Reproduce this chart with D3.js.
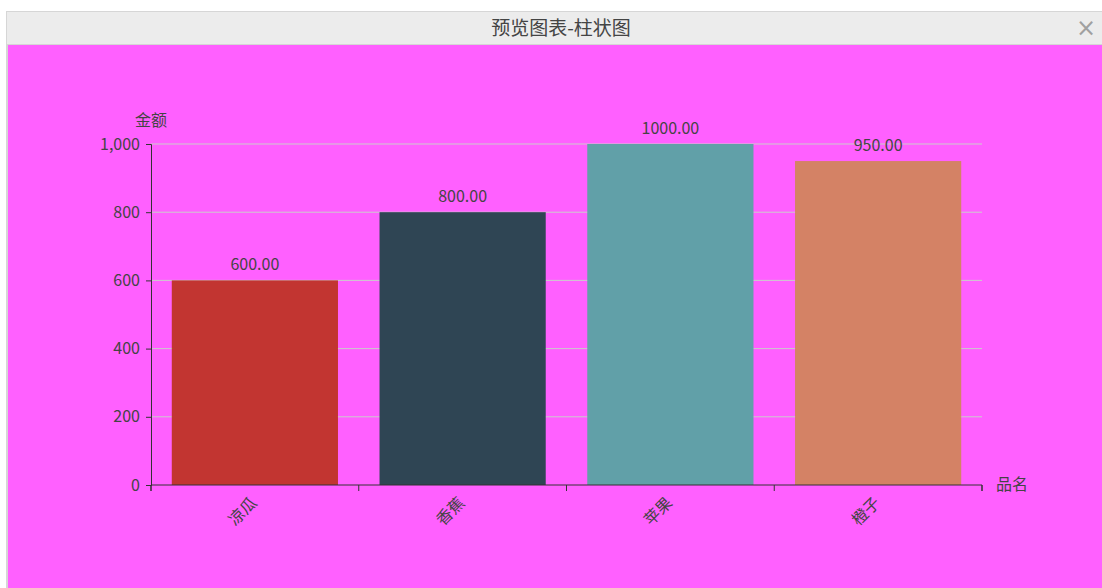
<!DOCTYPE html>
<html><head><meta charset="utf-8">
<script src="https://cdn.jsdelivr.net/npm/d3@7/dist/d3.min.js"></script>
<style>
html,body{margin:0;padding:0;background:#fff;}
svg{display:block;}
</style></head>
<body>
<svg id="chart" width="1102" height="588"></svg>
<script>
const categories = ["凉瓜", "香蕉", "苹果", "橙子"];
const values = [600, 800, 1000, 950];
const colors = ["#c23531", "#2f4554", "#61a0a8", "#d48265"];
const yTicks = [0, 200, 400, 600, 800, 1000];
const title = "预览图表-柱状图";
const yName = "金额";
const xName = "品名";

(function () {
const svg = d3.select("#chart");
const font = "'Microsoft YaHei','Noto Sans CJK SC','Noto Sans',sans-serif";

// dialog frame
svg.append("rect").attr("x", 6).attr("y", 11).attr("width", 1096).attr("height", 577).attr("fill", "#d6d6d6");
svg.append("rect").attr("x", 7).attr("y", 12).attr("width", 1095).attr("height", 32).attr("fill", "#ececec");
svg.append("rect").attr("x", 8).attr("y", 45).attr("width", 1094).attr("height", 543).attr("fill", "#ff60ff");
svg.append("text").attr("x", 561).attr("y", 35).attr("text-anchor", "middle")
  .attr("font-family", font).attr("font-size", 19).attr("fill", "#444").text(title);
svg.append("text").attr("x", 1086).attr("y", 36).attr("text-anchor", "middle")
  .attr("font-family", "'DejaVu Sans',sans-serif").attr("font-size", 24).attr("fill", "#a0a0a0").text("×");

const pLeft = 151, pRight = 982, pTop = 144, pBottom = 485;
const x = d3.scaleBand().domain(categories).range([pLeft, pRight]).paddingInner(0.2).paddingOuter(0.1);
const xb = d3.scaleBand().domain(categories).range([pLeft, pRight]);
const y = d3.scaleLinear().domain([0, 1000]).range([pBottom, pTop]);

const g = svg.append("g");
// grid
g.selectAll("line.grid").data(yTicks.slice(1)).join("line")
  .attr("x1", pLeft).attr("x2", pRight).attr("y1", d => y(d)).attr("y2", d => y(d))
  .attr("stroke", "#cccccc").attr("stroke-width", 1);

// bars
g.selectAll("rect.bar").data(values).join("rect")
  .attr("x", (d, i) => x(categories[i])).attr("width", x.bandwidth())
  .attr("y", d => y(d)).attr("height", d => pBottom - y(d))
  .attr("fill", (d, i) => colors[i]);

// value labels
g.selectAll("text.val").data(values).join("text")
  .attr("x", (d, i) => x(categories[i]) + x.bandwidth() / 2).attr("y", d => y(d) - 10)
  .attr("text-anchor", "middle").attr("font-family", font).attr("font-size", 16).attr("fill", "#444")
  .text(d => d.toFixed(2));

// y axis
const yAxis = g.append("g").attr("transform", `translate(${pLeft},0)`)
  .call(d3.axisLeft(y).tickValues(yTicks).tickSize(5).tickPadding(6).tickFormat(d3.format(",")));
yAxis.select(".domain").attr("stroke", "#333");
yAxis.selectAll(".tick line").attr("stroke", "#333");
yAxis.selectAll("text").attr("font-family", font).attr("font-size", 16).attr("fill", "#444");

// x axis
const xAxis = g.append("g").attr("transform", `translate(0,${pBottom})`)
  .call(d3.axisBottom(xb).tickSize(0).tickFormat(""));
xAxis.select(".domain").attr("stroke", "#333").attr("d", `M${pLeft},6V0H${pRight}V6`);
const bounds = [pLeft].concat(categories.map(c => xb(c) + xb.bandwidth()));
xAxis.selectAll("line.bt").data(bounds).join("line").attr("class", "bt")
  .attr("x1", d => d).attr("x2", d => d).attr("y1", 0).attr("y2", 6).attr("stroke", "#333");
xAxis.selectAll("text.cat").data(categories).join("text").attr("class", "cat")
  .attr("transform", d => `translate(${xb(d) + xb.bandwidth() / 2 - 1},${15}) rotate(-45)`)
  .attr("text-anchor", "end").attr("dy", "0.35em")
  .attr("font-family", font).attr("font-size", 16).attr("fill", "#444").text(d => d);

// axis names
svg.append("text").attr("x", pLeft).attr("y", 126).attr("text-anchor", "middle")
  .attr("font-family", font).attr("font-size", 16).attr("fill", "#444").text(yName);
svg.append("text").attr("x", 996).attr("y", 490).attr("text-anchor", "start")
  .attr("font-family", font).attr("font-size", 16).attr("fill", "#444").text(xName);
})();
</script>
</body></html>
